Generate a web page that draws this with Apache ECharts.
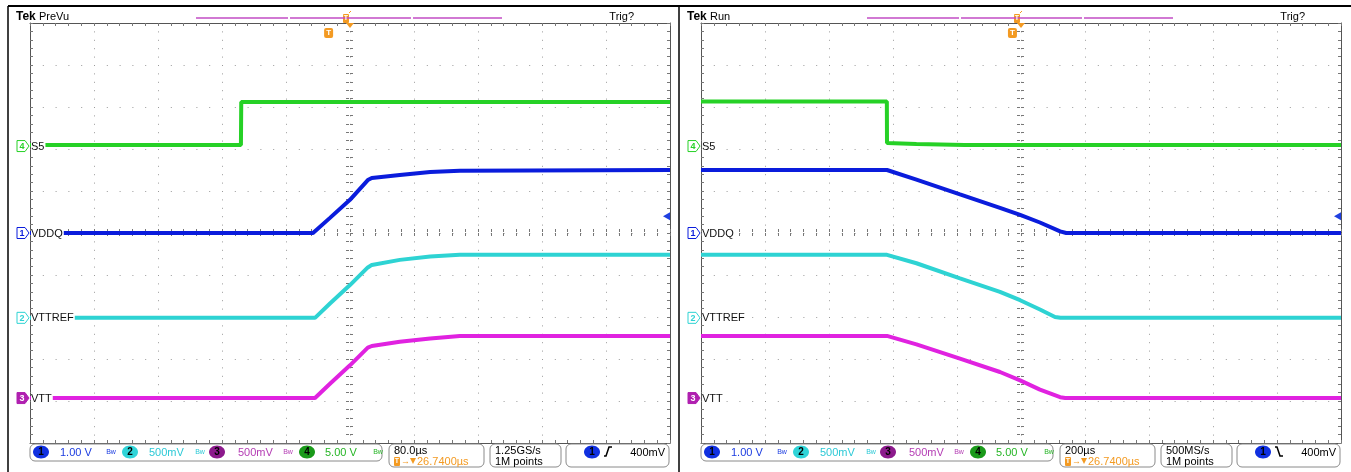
<!DOCTYPE html>
<html><head><meta charset="utf-8">
<script src="https://cdn.jsdelivr.net/npm/echarts/dist/echarts.min.js"></script>
<style>html,body{margin:0;padding:0;background:#fff}#c{width:1351px;height:472px}</style>
</head><body><div id="c"></div>
<script>
// ---------------- data ----------------
// channel order used below: CH4 (S5), CH1 (VDDQ), CH2 (VTTREF), CH3 (VTT)
const chNames = ['S5', 'VDDQ', 'VTTREF', 'VTT'];
const chNumbers = [4, 1, 2, 3];
const chVoltsPerDiv = [5.0, 1.0, 0.5, 0.5];
const chOffsetDiv = [2.07, 0, -2.02, -3.93];
const chTraceColors = ['#26d126', '#0a1cdc', '#2ed3d3', '#e022e0'];
const chTagFilled = [false, false, false, true];

// status bar, in channel order 1..4
const statusScaleLabels = ['1.00 V', '500mV', '500mV', '5.00 V'];
const statusTextColors = ['#1a3be0', '#2cc9d6', '#b43cb4', '#25b525'];
const statusOvalColors = ['#1030e0', '#30d4d8', '#8c1a8c', '#1a9a1a'];

const panelTitles = ['PreVu', 'Run'];
const timePerDivUs = [80, 200];
const horizDelayUs = [26.74, 26.74];
const timebaseLabels = ['80.0µs', '200µs'];
const delayLabel = '26.7400µs';
const sampleRateLabels = ['1.25GS/s', '500MS/s'];
const recordLabel = '1M points';
const trigSlope = ['rise', 'fall'];
const trigLevelV = 0.4;
const trigLevelLabel = '400mV';

// waveforms: [time µs relative to trigger, volts]
const upS5 = [[-373.26, 0.12], [-109.6, 0.12], [-109.2, 5.24], [426.74, 5.24]];
const upVDDQ = [[-373.26, 0], [-19.5, 0], [1.7, 0.36], [26.7, 0.79], [49, 1.26], [54, 1.31], [89, 1.38], [127, 1.45], [164, 1.48], [426.74, 1.5]];
const upVTTREF = [[-373.26, 0], [-17, 0], [1.7, 0.17], [26.7, 0.39], [49, 0.6], [54, 0.63], [89, 0.69], [127, 0.73], [164, 0.75], [426.74, 0.75]];
const upVTT = [[-373.26, 0], [-17, 0], [1.7, 0.17], [26.7, 0.39], [49, 0.6], [54, 0.62], [89, 0.67], [127, 0.71], [164, 0.74], [426.74, 0.74]];

const downS5 = [[-973.26, 5.3], [-392.5, 5.3], [-392, 0.36], [-300, 0.24], [-150, 0.12], [1026.74, 0.12]];
const downVDDQ = [[-973.26, 1.5], [-392, 1.5], [-300, 1.27], [-164, 0.92], [-39, 0.6], [24, 0.43], [86, 0.25], [149, 0.04], [168, 0], [1026.74, 0]];
const downVTTREF = [[-973.26, 0.75], [-392, 0.75], [-300, 0.65], [-164, 0.47], [-39, 0.31], [24, 0.21], [86, 0.1], [133, 0.01], [150, 0], [1026.74, 0]];
const downVTT = [[-973.26, 0.74], [-392, 0.74], [-300, 0.64], [-164, 0.47], [-39, 0.31], [24, 0.21], [86, 0.1], [149, 0.01], [165, 0], [1026.74, 0]];

const panelData = [[upS5, upVDDQ, upVTTREF, upVTT], [downS5, downVDDQ, downVTTREF, downVTT]];

// ---------------- chart ----------------
const panelLeft = [30, 701];
const gridTop = 23, gridW = 640, gridH = 420;
const F = '"Liberation Sans", Arial, sans-serif';

function divX(gi, pos, split, inside, line) {
  return {type: 'value', gridIndex: gi, position: pos, min: -5, max: 5, interval: 1, silent: true,
    axisLine: {show: line, onZero: false, lineStyle: {color: '#555', width: 1}},
    axisTick: {show: true, inside: inside, length: 3, lineStyle: {color: '#777'}},
    minorTick: {show: true, splitNumber: 5, length: 3, lineStyle: {color: '#777'}},
    axisLabel: {show: false},
    splitLine: {show: split, lineStyle: {color: '#9a9a9a', width: 1, type: [1, 7.4]}},
    minorSplitLine: {show: false}, axisPointer: {show: false}};
}
function divY(gi, pos, split, inside, line) {
  const a = divX(gi, pos, split, inside, line);
  a.splitLine.lineStyle.type = [1, 11.8];
  return a;
}

const option = {animation: false, backgroundColor: '#ffffff', grid: [], xAxis: [], yAxis: [], series: []};
const idx = [];
panelLeft.forEach((gl, p) => {
  const g0 = option.grid.length;
  option.grid.push({left: gl, top: gridTop, width: gridW, height: gridH, outerBoundsMode: 'none'});
  option.grid.push({left: gl, top: gridTop + gridH / 2 - 1, width: gridW, height: 1, outerBoundsMode: 'none'});
  option.grid.push({left: gl + gridW / 2 - 1, top: gridTop, width: 1, height: gridH, outerBoundsMode: 'none'});
  const xb = option.xAxis.length, yb = option.yAxis.length;
  option.xAxis.push(divX(g0, 'bottom', true, true, true));
  option.xAxis.push(divX(g0, 'top', false, true, true));
  const span = timePerDivUs[p] * 5;
  option.xAxis.push({type: 'value', gridIndex: g0, position: 'bottom', min: horizDelayUs[p] - span, max: horizDelayUs[p] + span, show: false});
  option.xAxis.push(divX(g0 + 1, 'top', false, false, false));
  option.xAxis.push(divX(g0 + 1, 'bottom', false, false, false));
  option.xAxis.push({type: 'value', gridIndex: g0 + 2, min: 0, max: 1, show: false});
  option.yAxis.push(divY(g0, 'left', true, true, true));
  option.yAxis.push(divY(g0, 'right', false, true, true));
  option.yAxis.push({type: 'value', gridIndex: g0 + 1, min: 0, max: 1, show: false});
  option.yAxis.push(divY(g0 + 2, 'left', false, false, false));
  option.yAxis.push(divY(g0 + 2, 'right', false, false, false));
  idx.push({xd: xb, xt: xb + 2, yd: yb});
  panelData[p].forEach((arr, c) => {
    option.series.push({
      type: 'line', xAxisIndex: xb + 2, yAxisIndex: yb, showSymbol: false, symbol: 'none',
      silent: true, z: 3,
      lineStyle: {color: chTraceColors[c], width: 4},
      data: arr.map(([t, v]) => [t, chOffsetDiv[c] + v / chVoltsPerDiv[c]])
    });
  });
});

const chart = echarts.init(document.getElementById('c'));
chart.setOption(option);

const px = (p, t) => chart.convertToPixel({xAxisIndex: idx[p].xt}, t);
const pxd = (p, d) => chart.convertToPixel({xAxisIndex: idx[p].xd}, d);
const py = (p, d) => chart.convertToPixel({yAxisIndex: idx[p].yd}, d);

const T = (x, y, text, fill, font, align, va, extra) => ({type: 'text', x: x, y: y, z: 20, silent: true,
  style: Object.assign({text: text, fill: fill, font: font, align: align || 'left', textAlign: align || 'left',
    verticalAlign: va || 'middle', textVerticalAlign: va || 'middle'}, extra || {})});
const L = (x1, y1, x2, y2, stroke, w) => ({type: 'line', z: 20, silent: true, shape: {x1: x1, y1: y1, x2: x2, y2: y2}, style: {stroke: stroke, lineWidth: w || 1}});
const R = (x, y, w, h, r, fill, stroke) => ({type: 'rect', z: 19, silent: true, shape: {x: x, y: y, width: w, height: h, r: r}, style: {fill: fill, stroke: stroke || null, lineWidth: 1}});
const PG = (pts, fill, stroke) => ({type: 'polygon', z: 20, silent: true, shape: {points: pts}, style: {fill: fill, stroke: stroke || null, lineWidth: 1}});
const PL = (pts, stroke, w) => ({type: 'polyline', z: 20, silent: true, shape: {points: pts}, style: {stroke: stroke, lineWidth: w || 1, fill: null}});
const E = (cx, cy, rx, ry, fill) => ({type: 'ellipse', z: 20, silent: true, shape: {cx: cx, cy: cy, rx: rx, ry: ry}, style: {fill: fill}});

const ORANGE = '#f39a22';
const g = [];
g.push(L(8, 6, 1351, 6, '#000', 2), L(8, 6, 8, 472, '#000', 1.5), L(679, 6, 679, 472, '#000', 1.5));

panelLeft.forEach((gl, p) => {
  const dx = gl - 30;
  // header
  g.push(T(16 + dx, 17, 'Tek', '#000', 'bold 12px ' + F));
  g.push(T(39 + dx, 17, panelTitles[p], '#000', '11px ' + F));
  g.push(T(634 + dx, 17, 'Trig?', '#000', '11px ' + F, 'right'));
  // record bar
  g.push(L(196 + dx, 18, 288 + dx, 18, '#c24cc4', 1.5), L(290 + dx, 18, 411 + dx, 18, '#c24cc4', 1.5), L(413 + dx, 18, 502 + dx, 18, '#c24cc4', 1.5));
  // expansion point / trigger markers
  const cx = pxd(p, 0);
  g.push(R(cx - 7, 14, 6, 9, 1, ORANGE));
  g.push(T(cx - 4, 18.5, 'T', '#fff', 'bold 7px ' + F, 'center'));
  g.push(L(cx - 1, 13, cx + 1, 11, ORANGE, 1));
  g.push(PG([[cx - 4, 23], [cx + 4, 23], [cx, 28]], ORANGE));
  const tx = px(p, 0);
  g.push(R(tx - 4.5, 28, 9, 10, 2, ORANGE));
  g.push(T(tx, 33, 'T', '#fff', 'bold 8px ' + F, 'center'));
  // channel tags + labels
  chNames.forEach((nm, c) => {
    const y = py(p, chOffsetDiv[c]);
    const x0 = 17 + dx;
    const col = c === 3 ? '#b020b0' : chTraceColors[c];
    g.push(PG([[x0, y - 5.5], [x0 + 8, y - 5.5], [x0 + 12, y], [x0 + 8, y + 5.5], [x0, y + 5.5]],
      chTagFilled[c] ? col : '#fff', col));
    g.push(T(x0 + 5, y + 0.5, String(chNumbers[c]), chTagFilled[c] ? '#fff' : col, 'bold 9px ' + F, 'center'));
    g.push(T(31 + dx, y + 0.5, nm, '#111', '11px ' + F, 'left', 'middle', {backgroundColor: '#fff', padding: [1, 1, 1, 0]}));
  });
  // trigger level arrow (CH1)
  const ty = py(p, chOffsetDiv[1] + trigLevelV / chVoltsPerDiv[1]);
  const rx = pxd(p, 5);
  g.push(PG([[rx, ty - 4], [rx, ty + 4], [rx - 7, ty]], '#2040e0'));

  // status bar
  g.push(R(30 + dx, 444, 352, 17, 5, '#fff', '#8a8a8a'));
  const ovalX = [41, 130, 217, 307], txtX = [60, 149, 238, 325], bwX = [111, 200, 288, 378];
  for (let i = 0; i < 4; i++) {
    g.push(E(ovalX[i] + dx, 452, 8, 6.5, statusOvalColors[i]));
    g.push(T(ovalX[i] + dx, 452.5, String(i + 1), '#000', 'bold 10px ' + F, 'center'));
    g.push(T(txtX[i] + dx, 452.5, statusScaleLabels[i], statusTextColors[i], '11px ' + F));
    g.push(T(bwX[i] + dx, 452, 'Bw', statusTextColors[i], '7px ' + F, 'center'));
  }
  g.push(R(389 + dx, 444, 95, 23, 5, '#fff', '#8a8a8a'));
  g.push(T(394 + dx, 450.5, timebaseLabels[p], '#000', '11px ' + F));
  g.push(R(394 + dx, 457, 6, 9, 1, ORANGE));
  g.push(T(397 + dx, 461.5, 'T', '#fff', 'bold 7px ' + F, 'center'));
  g.push(T(401 + dx, 461.5, '→', ORANGE, '9px ' + F));
  g.push(PG([[410 + dx, 458], [416 + dx, 458], [413 + dx, 464]], ORANGE));
  g.push(T(417 + dx, 461.5, delayLabel, ORANGE, '11px ' + F));
  g.push(R(490 + dx, 444, 71, 23, 5, '#fff', '#8a8a8a'));
  g.push(T(495 + dx, 450.5, sampleRateLabels[p], '#000', '11px ' + F));
  g.push(T(495 + dx, 461.5, recordLabel, '#000', '11px ' + F));
  g.push(R(566 + dx, 444, 103, 23, 5, '#fff', '#8a8a8a'));
  g.push(E(592 + dx, 452, 8, 6.5, statusOvalColors[0]));
  g.push(T(592 + dx, 452.5, '1', '#000', 'bold 10px ' + F, 'center'));
  const ex = 604 + dx;
  g.push(trigSlope[p] === 'rise'
    ? PL([[ex, 456], [ex + 2, 456], [ex + 5, 447], [ex + 8, 447]], '#000', 1.5)
    : PL([[ex, 447], [ex + 2, 447], [ex + 5, 456], [ex + 8, 456]], '#000', 1.5));
  g.push(T(665 + dx, 452.5, trigLevelLabel, '#000', '11px ' + F, 'right'));
});

chart.setOption({graphic: g});
</script>
</body></html>
